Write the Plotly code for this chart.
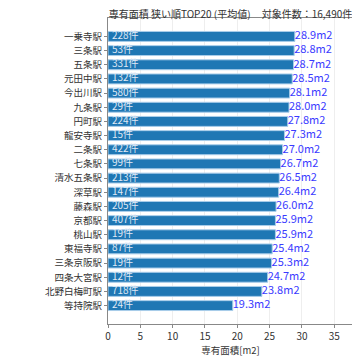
import plotly.graph_objects as go

stations = ["一乗寺駅", "三条駅", "五条駅", "元田中駅", "今出川駅", "九条駅", "円町駅", "龍安寺駅",
            "二条駅", "七条駅", "清水五条駅", "深草駅", "藤森駅", "京都駅", "桃山駅", "東福寺駅",
            "三条京阪駅", "四条大宮駅", "北野白梅町駅", "等持院駅"]
areas = [28.9, 28.8, 28.7, 28.5, 28.1, 28.0, 27.8, 27.3, 27.0, 26.7, 26.5, 26.4, 26.0, 25.9,
         25.9, 25.4, 25.3, 24.7, 23.8, 19.3]
counts = [228, 53, 331, 132, 580, 29, 224, 15, 422, 99, 213, 147, 205, 407, 19, 87, 19, 12, 718, 24]
title_text = "専有面積 狭い順TOP20 (平均値)     対象件数：16,490件"
x_title = "専有面積[m2]"
x_ticks = [0, 5, 10, 15, 20, 25, 30, 35]

font = "Noto Sans CJK JP"
W = H = 352  # page body has an 8px margin

fig = go.Figure()
fig.add_trace(go.Bar(
    x=areas, y=stations, orientation="h",
    marker=dict(color="#1f77b4", line=dict(color="#a9cdea", width=1)),
    width=0.7, hoverinfo="skip",
))
fig.add_trace(go.Scatter(
    x=[0.6] * len(counts), y=stations, mode="text",
    text=[f"{c}件" for c in counts],
    textposition="middle right",
    textfont=dict(color="#dfe8f5", size=10, family=font),
    cliponaxis=False, hoverinfo="skip",
))
fig.add_trace(go.Scatter(
    x=areas, y=stations, mode="text",
    text=[f"{a:.1f}m2" for a in areas],
    textposition="middle right",
    textfont=dict(color="#3a3aff", size=11, family=font),
    cliponaxis=False, hoverinfo="skip",
))

fig.update_layout(
    width=W, height=H,
    margin=dict(l=100, r=7, t=10, b=36),
    paper_bgcolor="white", plot_bgcolor="white",
    showlegend=False,
    font=dict(family=font, size=10, color="#333333"),
    title=dict(text=title_text, x=(100 + 345) / 2 / W, xanchor="center",
               y=1 - 6.5 / H, yanchor="middle",
               font=dict(size=10, color="#333333", family=font)),
    xaxis=dict(range=[0, 37.9], tickvals=x_ticks, showgrid=True, gridcolor="#eeeeee",
               zeroline=False, showline=True, linecolor="#888888", mirror=True,
               ticks="outside", ticklen=3, tickcolor="#888888", automargin=False,
               tickfont=dict(size=10, color="#333333"),
               title=dict(text=x_title, font=dict(size=9.5, color="#333333"), standoff=2)),
    yaxis=dict(type="category", range=[20.3, -1.3], showgrid=False, zeroline=False,
               showline=True, linecolor="#888888", mirror=True, automargin=False,
               ticks="outside", ticklen=3, tickcolor="#888888",
               tickfont=dict(size=9.5, color="#333333")),
)

fig.write_html("out.html")
